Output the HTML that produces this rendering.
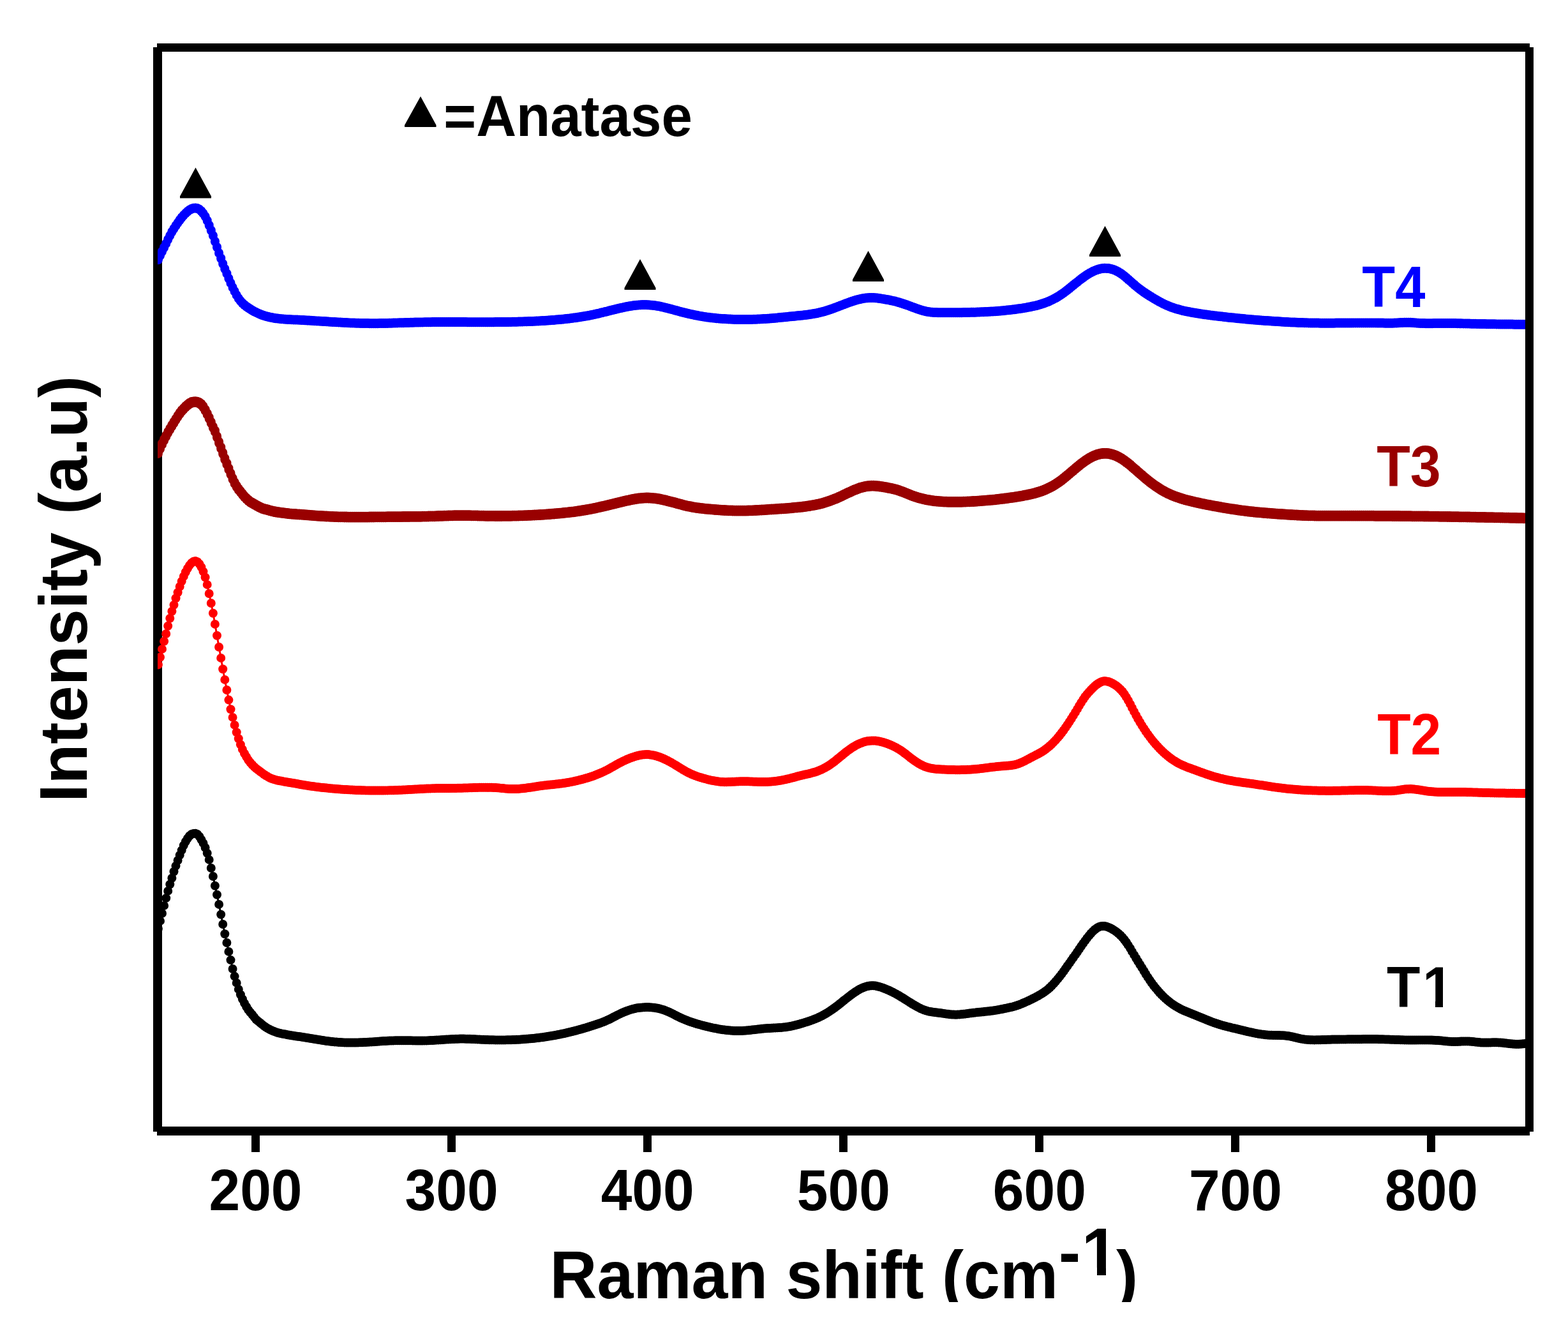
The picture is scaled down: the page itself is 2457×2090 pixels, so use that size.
<!DOCTYPE html>
<html lang="en">
<head>
<meta charset="utf-8">
<title>Raman spectra of T1-T4 (Anatase)</title>
<style>
html,body{margin:0;padding:0;background:#fff;}
body{width:2457px;height:2090px;overflow:hidden;}
svg{display:block;}
text{font-family:"Liberation Sans", "DejaVu Sans", sans-serif;font-weight:bold;fill:#000;}
.ax{fill:#000;shape-rendering:crispEdges;}
.tk{font-size:87.5px;text-anchor:middle;}
.lb{font-size:87.5px;}
.ti{font-size:104.2px;}
.cv{fill:none;stroke-width:3;stroke-linejoin:round;stroke-linecap:round;}
</style>
</head>
<body>
<svg xmlns="http://www.w3.org/2000/svg" width="2457" height="2090" viewBox="0 0 2457 2090">
<defs>
<clipPath id="plot"><rect x="247" y="60" width="2150" height="1720"/></clipPath>
<clipPath id="xt"><rect x="800" y="1900" width="1100" height="140"/></clipPath>
<marker id="mT4" markerUnits="userSpaceOnUse" markerWidth="24" markerHeight="24" refX="12" refY="12" viewBox="0 0 24 24"><rect x="5.0" y="4.5" width="14.0" height="15.0" rx="7.0" ry="7.0" fill="#0000ff"/></marker>
<marker id="mT3" markerUnits="userSpaceOnUse" markerWidth="24" markerHeight="24" refX="12" refY="12" viewBox="0 0 24 24"><rect x="5.0" y="3.6" width="14.0" height="16.8" rx="7.0" ry="7.0" fill="#990000"/></marker>
<marker id="mT2" markerUnits="userSpaceOnUse" markerWidth="24" markerHeight="24" refX="12" refY="12" viewBox="0 0 24 24"><rect x="5.0" y="5.0" width="14.0" height="14.0" rx="7.0" ry="7.0" fill="#ff0000"/></marker>
<marker id="mT1" markerUnits="userSpaceOnUse" markerWidth="24" markerHeight="24" refX="12" refY="12" viewBox="0 0 24 24"><rect x="5.0" y="5.0" width="14.0" height="14.0" rx="7.0" ry="7.0" fill="#000000"/></marker>
</defs>
<rect x="0" y="0" width="2457" height="2090" fill="#fff"/>
<g class="ax">
<rect x="240" y="74" width="14" height="1699"/>
</g>
<g clip-path="url(#plot)">
<polyline class="cv" stroke="#000000" marker-start="url(#mT1)" marker-mid="url(#mT1)" marker-end="url(#mT1)" points="247.9,1455.0 251.0,1442.9 254.0,1431.0 257.1,1418.9 260.2,1407.1 263.2,1395.9 266.3,1385.5 269.4,1375.7 272.5,1365.5 275.5,1356.6 278.6,1348.0 281.7,1339.8 284.7,1332.1 287.8,1324.5 290.9,1318.5 294.0,1313.5 297.0,1309.5 300.1,1307.0 303.2,1305.9 306.2,1305.7 309.3,1307.0 312.4,1310.5 315.4,1315.5 318.5,1321.0 321.6,1328.0 324.7,1336.7 327.7,1346.9 330.8,1360.0 333.9,1373.0 336.9,1387.8 340.0,1401.8 343.1,1416.9 346.2,1432.8 349.2,1448.0 352.3,1463.2 355.4,1477.0 358.4,1490.9 361.5,1504.1 364.6,1518.0 367.6,1529.6 370.7,1539.9 373.8,1549.9 376.9,1558.2 379.9,1565.3 383.0,1571.7 386.1,1577.2 389.1,1582.1 392.2,1586.1 395.3,1589.7 398.4,1593.6 401.4,1597.4 404.5,1599.9 407.6,1602.4 410.6,1604.9 413.7,1607.4 416.8,1609.6 419.9,1611.4 422.9,1613.1 426.0,1614.5 429.1,1615.8 432.1,1616.9 435.2,1618.0 438.3,1618.8 441.3,1619.4 444.4,1620.0 447.5,1620.6 450.6,1621.2 453.6,1621.7 456.7,1622.3 459.8,1622.7 462.8,1623.2 465.9,1623.7 469.0,1624.1 472.1,1624.6 475.1,1625.1 478.2,1625.6 481.3,1626.1 484.3,1626.6 487.4,1627.1 490.5,1627.6 493.5,1628.1 496.6,1628.6 499.7,1629.1 502.8,1629.6 505.8,1630.0 508.9,1630.5 512.0,1630.9 515.0,1631.3 518.1,1631.7 521.2,1632.0 524.3,1632.4 527.3,1632.6 530.4,1632.9 533.5,1633.1 536.5,1633.2 539.6,1633.4 542.7,1633.5 545.7,1633.5 548.8,1633.6 551.9,1633.6 555.0,1633.5 558.0,1633.5 561.1,1633.4 564.2,1633.3 567.2,1633.2 570.3,1633.1 573.4,1632.9 576.5,1632.7 579.5,1632.6 582.6,1632.4 585.7,1632.2 588.7,1632.0 591.8,1631.8 594.9,1631.5 598.0,1631.3 601.0,1631.1 604.1,1631.0 607.2,1630.8 610.2,1630.6 613.3,1630.5 616.4,1630.4 619.4,1630.3 622.5,1630.2 625.6,1630.2 628.7,1630.2 631.7,1630.2 634.8,1630.2 637.9,1630.2 640.9,1630.3 644.0,1630.3 647.1,1630.4 650.2,1630.4 653.2,1630.5 656.3,1630.5 659.4,1630.5 662.4,1630.5 665.5,1630.4 668.6,1630.4 671.6,1630.3 674.7,1630.1 677.8,1630.0 680.9,1629.8 683.9,1629.6 687.0,1629.4 690.1,1629.2 693.1,1629.0 696.2,1628.8 699.3,1628.6 702.4,1628.4 705.4,1628.2 708.5,1628.0 711.6,1627.9 714.6,1627.7 717.7,1627.7 720.8,1627.6 723.9,1627.6 726.9,1627.6 730.0,1627.7 733.1,1627.7 736.1,1627.8 739.2,1628.0 742.3,1628.1 745.3,1628.2 748.4,1628.4 751.5,1628.5 754.6,1628.7 757.6,1628.8 760.7,1629.0 763.8,1629.1 766.8,1629.2 769.9,1629.3 773.0,1629.3 776.1,1629.4 779.1,1629.4 782.2,1629.4 785.3,1629.4 788.3,1629.4 791.4,1629.4 794.5,1629.3 797.5,1629.3 800.6,1629.2 803.7,1629.1 806.8,1629.0 809.8,1628.8 812.9,1628.7 816.0,1628.5 819.0,1628.3 822.1,1628.1 825.2,1627.8 828.3,1627.6 831.3,1627.3 834.4,1627.0 837.5,1626.7 840.5,1626.3 843.6,1626.0 846.7,1625.6 849.8,1625.2 852.8,1624.7 855.9,1624.3 859.0,1623.8 862.0,1623.3 865.1,1622.8 868.2,1622.2 871.2,1621.7 874.3,1621.1 877.4,1620.5 880.5,1619.8 883.5,1619.2 886.6,1618.5 889.7,1617.8 892.7,1617.0 895.8,1616.3 898.9,1615.5 902.0,1614.7 905.0,1613.9 908.1,1613.0 911.2,1612.2 914.2,1611.3 917.3,1610.4 920.4,1609.5 923.4,1608.5 926.5,1607.6 929.6,1606.6 932.7,1605.6 935.7,1604.6 938.8,1603.5 941.9,1602.4 944.9,1601.2 948.0,1600.0 951.1,1598.6 954.2,1597.2 957.2,1595.7 960.3,1594.1 963.4,1592.5 966.4,1590.9 969.5,1589.4 972.6,1587.9 975.6,1586.5 978.7,1585.2 981.8,1584.0 984.9,1582.9 987.9,1581.9 991.0,1581.0 994.1,1580.3 997.1,1579.6 1000.2,1579.1 1003.3,1578.7 1006.4,1578.4 1009.4,1578.2 1012.5,1578.1 1015.6,1578.1 1018.6,1578.2 1021.7,1578.4 1024.8,1578.8 1027.9,1579.2 1030.9,1579.8 1034.0,1580.5 1037.1,1581.4 1040.1,1582.3 1043.2,1583.5 1046.3,1584.7 1049.3,1586.1 1052.4,1587.6 1055.5,1589.1 1058.6,1590.7 1061.6,1592.2 1064.7,1593.7 1067.8,1595.2 1070.8,1596.6 1073.9,1597.8 1077.0,1599.1 1080.1,1600.2 1083.1,1601.3 1086.2,1602.3 1089.3,1603.3 1092.3,1604.2 1095.4,1605.1 1098.5,1605.9 1101.5,1606.7 1104.6,1607.5 1107.7,1608.3 1110.8,1609.0 1113.8,1609.7 1116.9,1610.4 1120.0,1611.0 1123.0,1611.6 1126.1,1612.2 1129.2,1612.7 1132.3,1613.2 1135.3,1613.6 1138.4,1614.0 1141.5,1614.3 1144.5,1614.6 1147.6,1614.8 1150.7,1615.0 1153.8,1615.0 1156.8,1615.1 1159.9,1615.0 1163.0,1614.9 1166.0,1614.8 1169.1,1614.6 1172.2,1614.3 1175.2,1614.0 1178.3,1613.6 1181.4,1613.3 1184.5,1612.9 1187.5,1612.5 1190.6,1612.2 1193.7,1611.8 1196.7,1611.5 1199.8,1611.3 1202.9,1611.0 1206.0,1610.9 1209.0,1610.7 1212.1,1610.6 1215.2,1610.4 1218.2,1610.3 1221.3,1610.1 1224.4,1609.9 1227.4,1609.6 1230.5,1609.2 1233.6,1608.8 1236.7,1608.3 1239.7,1607.7 1242.8,1607.0 1245.9,1606.3 1248.9,1605.5 1252.0,1604.7 1255.1,1603.8 1258.2,1602.9 1261.2,1601.9 1264.3,1601.0 1267.4,1600.0 1270.4,1598.9 1273.5,1597.8 1276.6,1596.6 1279.7,1595.4 1282.7,1594.0 1285.8,1592.5 1288.9,1591.0 1291.9,1589.3 1295.0,1587.5 1298.1,1585.6 1301.1,1583.6 1304.2,1581.5 1307.3,1579.3 1310.4,1577.0 1313.4,1574.7 1316.5,1572.2 1319.6,1569.8 1322.6,1567.3 1325.7,1564.9 1328.8,1562.4 1331.9,1560.1 1334.9,1557.8 1338.0,1555.6 1341.1,1553.5 1344.1,1551.6 1347.2,1549.8 1350.3,1548.3 1353.3,1547.0 1356.4,1545.9 1359.5,1545.0 1362.6,1544.5 1365.6,1544.2 1368.7,1544.3 1371.8,1544.6 1374.8,1545.2 1377.9,1546.0 1381.0,1546.9 1384.1,1548.0 1387.1,1549.2 1390.2,1550.5 1393.3,1551.8 1396.3,1553.3 1399.4,1554.8 1402.5,1556.4 1405.5,1558.1 1408.6,1559.8 1411.7,1561.7 1414.8,1563.5 1417.8,1565.5 1420.9,1567.4 1424.0,1569.4 1427.0,1571.3 1430.1,1573.2 1433.2,1575.0 1436.3,1576.8 1439.3,1578.4 1442.4,1580.0 1445.5,1581.4 1448.5,1582.6 1451.6,1583.6 1454.7,1584.4 1457.8,1585.0 1460.8,1585.5 1463.9,1585.9 1467.0,1586.3 1470.0,1586.7 1473.1,1587.0 1476.2,1587.5 1479.2,1587.9 1482.3,1588.4 1485.4,1588.8 1488.5,1589.2 1491.5,1589.5 1494.6,1589.6 1497.7,1589.7 1500.7,1589.6 1503.8,1589.4 1506.9,1589.1 1510.0,1588.8 1513.0,1588.4 1516.1,1588.0 1519.2,1587.6 1522.2,1587.2 1525.3,1586.8 1528.4,1586.4 1531.4,1586.1 1534.5,1585.8 1537.6,1585.5 1540.7,1585.2 1543.7,1584.8 1546.8,1584.5 1549.9,1584.2 1552.9,1583.8 1556.0,1583.4 1559.1,1582.9 1562.2,1582.4 1565.2,1581.9 1568.3,1581.3 1571.4,1580.7 1574.4,1580.1 1577.5,1579.4 1580.6,1578.8 1583.7,1578.1 1586.7,1577.4 1589.8,1576.6 1592.9,1575.6 1595.9,1574.6 1599.0,1573.4 1602.1,1572.1 1605.1,1570.8 1608.2,1569.4 1611.3,1568.0 1614.4,1566.6 1617.4,1565.1 1620.5,1563.5 1623.6,1561.9 1626.6,1560.2 1629.7,1558.4 1632.8,1556.6 1635.9,1554.6 1638.9,1552.4 1642.0,1550.0 1645.1,1547.3 1648.1,1544.3 1651.2,1541.0 1654.3,1537.5 1657.3,1533.9 1660.4,1530.1 1663.5,1526.1 1666.6,1521.9 1669.6,1517.6 1672.7,1513.2 1675.8,1508.9 1678.8,1504.6 1681.9,1500.2 1685.0,1495.9 1688.1,1491.5 1691.1,1487.0 1694.2,1482.5 1697.3,1478.1 1700.3,1473.9 1703.4,1469.8 1706.5,1465.9 1709.6,1462.3 1712.6,1459.1 1715.7,1456.3 1718.8,1454.0 1721.8,1452.3 1724.9,1451.3 1728.0,1450.9 1731.0,1451.1 1734.1,1451.8 1737.2,1452.9 1740.3,1454.3 1743.3,1456.0 1746.4,1457.9 1749.5,1460.1 1752.5,1462.5 1755.6,1465.3 1758.7,1468.5 1761.8,1472.2 1764.8,1476.3 1767.9,1480.9 1771.0,1485.8 1774.0,1490.9 1777.1,1496.1 1780.2,1501.3 1783.2,1506.3 1786.3,1511.2 1789.4,1516.1 1792.5,1521.2 1795.5,1526.2 1798.6,1531.1 1801.7,1535.7 1804.7,1540.0 1807.8,1544.2 1810.9,1548.1 1814.0,1551.8 1817.0,1555.2 1820.1,1558.5 1823.2,1561.6 1826.2,1564.4 1829.3,1567.1 1832.4,1569.6 1835.4,1571.9 1838.5,1574.1 1841.6,1576.1 1844.7,1577.9 1847.7,1579.6 1850.8,1581.2 1853.9,1582.7 1856.9,1584.0 1860.0,1585.3 1863.1,1586.6 1866.2,1587.8 1869.2,1589.0 1872.3,1590.3 1875.4,1591.5 1878.4,1592.8 1881.5,1594.0 1884.6,1595.3 1887.7,1596.6 1890.7,1597.8 1893.8,1599.0 1896.9,1600.2 1899.9,1601.4 1903.0,1602.5 1906.1,1603.5 1909.1,1604.5 1912.2,1605.5 1915.3,1606.4 1918.4,1607.2 1921.4,1608.1 1924.5,1608.9 1927.6,1609.6 1930.6,1610.4 1933.7,1611.1 1936.8,1611.8 1939.9,1612.6 1942.9,1613.3 1946.0,1614.1 1949.1,1614.8 1952.1,1615.5 1955.2,1616.2 1958.3,1616.9 1961.3,1617.6 1964.4,1618.3 1967.5,1618.9 1970.6,1619.4 1973.6,1620.0 1976.7,1620.4 1979.8,1620.8 1982.8,1621.2 1985.9,1621.5 1989.0,1621.7 1992.1,1621.8 1995.1,1621.9 1998.2,1621.9 2001.3,1622.0 2004.3,1622.1 2007.4,1622.2 2010.5,1622.3 2013.6,1622.6 2016.6,1622.9 2019.7,1623.3 2022.8,1623.9 2025.8,1624.5 2028.9,1625.3 2032.0,1626.0 2035.0,1626.7 2038.1,1627.4 2041.2,1627.9 2044.3,1628.4 2047.3,1628.8 2050.4,1629.0 2053.5,1629.2 2056.5,1629.3 2059.6,1629.4 2062.7,1629.3 2065.8,1629.3 2068.8,1629.2 2071.9,1629.1 2075.0,1629.0 2078.0,1628.9 2081.1,1628.8 2084.2,1628.7 2087.2,1628.6 2090.3,1628.6 2093.4,1628.5 2096.5,1628.5 2099.5,1628.4 2102.6,1628.4 2105.7,1628.4 2108.7,1628.4 2111.8,1628.3 2114.9,1628.3 2118.0,1628.3 2121.0,1628.3 2124.1,1628.3 2127.2,1628.2 2130.2,1628.2 2133.3,1628.2 2136.4,1628.1 2139.5,1628.1 2142.5,1628.1 2145.6,1628.1 2148.7,1628.1 2151.7,1628.1 2154.8,1628.1 2157.9,1628.1 2160.9,1628.2 2164.0,1628.3 2167.1,1628.3 2170.2,1628.4 2173.2,1628.5 2176.3,1628.6 2179.4,1628.7 2182.4,1628.8 2185.5,1628.9 2188.6,1629.0 2191.7,1629.1 2194.7,1629.2 2197.8,1629.3 2200.9,1629.4 2203.9,1629.4 2207.0,1629.5 2210.1,1629.5 2213.1,1629.5 2216.2,1629.5 2219.3,1629.5 2222.4,1629.4 2225.4,1629.4 2228.5,1629.4 2231.6,1629.4 2234.6,1629.4 2237.7,1629.4 2240.8,1629.5 2243.9,1629.6 2246.9,1629.7 2250.0,1629.9 2253.1,1630.1 2256.1,1630.3 2259.2,1630.6 2262.3,1630.9 2265.3,1631.2 2268.4,1631.5 2271.5,1631.7 2274.6,1631.9 2277.6,1632.0 2280.7,1632.0 2283.8,1631.9 2286.8,1631.7 2289.9,1631.6 2293.0,1631.5 2296.1,1631.4 2299.1,1631.4 2302.2,1631.5 2305.3,1631.7 2308.3,1632.0 2311.4,1632.4 2314.5,1632.8 2317.6,1633.1 2320.6,1633.4 2323.7,1633.6 2326.8,1633.6 2329.8,1633.6 2332.9,1633.6 2336.0,1633.4 2339.0,1633.3 2342.1,1633.3 2345.2,1633.3 2348.3,1633.4 2351.3,1633.6 2354.4,1633.8 2357.5,1634.2 2360.5,1634.5 2363.6,1634.9 2366.7,1635.2 2369.8,1635.5 2372.8,1635.7 2375.9,1635.9 2379.0,1635.9 2382.0,1635.7 2385.1,1635.5 2388.2,1635.2 2391.2,1635.0 2394.3,1634.8 2397.4,1634.5"/>
<polyline class="cv" stroke="#ff0000" marker-start="url(#mT2)" marker-mid="url(#mT2)" marker-end="url(#mT2)" points="247.9,1041.4 251.0,1029.7 254.0,1016.9 257.1,1004.7 260.2,993.0 263.2,980.7 266.3,968.8 269.4,957.8 272.5,947.8 275.5,937.3 278.6,928.2 281.7,919.0 284.7,910.8 287.8,903.0 290.9,896.3 294.0,890.5 297.0,885.6 300.1,882.0 303.2,879.8 306.2,878.9 309.3,880.3 312.4,883.5 315.4,888.5 318.5,895.5 321.6,904.5 324.7,915.9 327.7,930.0 330.8,945.0 333.9,960.8 336.9,977.9 340.0,995.8 343.1,1013.7 346.2,1030.9 349.2,1048.2 352.3,1064.9 355.4,1081.0 358.4,1096.6 361.5,1111.2 364.6,1123.9 367.6,1135.9 370.7,1147.3 373.8,1157.2 376.9,1166.5 379.9,1174.0 383.0,1180.5 386.1,1185.8 389.1,1190.8 392.2,1194.7 395.3,1198.2 398.4,1201.4 401.4,1204.1 404.5,1206.4 407.6,1208.7 410.6,1210.9 413.7,1213.2 416.8,1215.2 419.9,1217.1 422.9,1218.8 426.0,1220.1 429.1,1221.1 432.1,1221.9 435.2,1222.7 438.3,1223.3 441.3,1223.8 444.4,1224.4 447.5,1225.0 450.6,1225.5 453.6,1226.0 456.7,1226.5 459.8,1227.0 462.8,1227.6 465.9,1228.1 469.0,1228.7 472.1,1229.3 475.1,1229.8 478.2,1230.3 481.3,1230.8 484.3,1231.3 487.4,1231.7 490.5,1232.1 493.5,1232.6 496.6,1232.9 499.7,1233.3 502.8,1233.7 505.8,1234.0 508.9,1234.3 512.0,1234.6 515.0,1234.9 518.1,1235.2 521.2,1235.5 524.3,1235.8 527.3,1236.0 530.4,1236.3 533.5,1236.5 536.5,1236.7 539.6,1236.9 542.7,1237.1 545.7,1237.3 548.8,1237.4 551.9,1237.6 555.0,1237.7 558.0,1237.9 561.1,1238.0 564.2,1238.1 567.2,1238.2 570.3,1238.3 573.4,1238.4 576.5,1238.4 579.5,1238.5 582.6,1238.5 585.7,1238.5 588.7,1238.5 591.8,1238.5 594.9,1238.5 598.0,1238.5 601.0,1238.5 604.1,1238.4 607.2,1238.4 610.2,1238.3 613.3,1238.3 616.4,1238.2 619.4,1238.1 622.5,1238.0 625.6,1237.8 628.7,1237.7 631.7,1237.6 634.8,1237.4 637.9,1237.3 640.9,1237.1 644.0,1236.9 647.1,1236.8 650.2,1236.6 653.2,1236.4 656.3,1236.2 659.4,1236.1 662.4,1235.9 665.5,1235.8 668.6,1235.6 671.6,1235.5 674.7,1235.4 677.8,1235.3 680.9,1235.2 683.9,1235.1 687.0,1235.1 690.1,1235.0 693.1,1235.0 696.2,1235.0 699.3,1235.0 702.4,1235.0 705.4,1235.0 708.5,1234.9 711.6,1234.9 714.6,1234.9 717.7,1234.8 720.8,1234.8 723.9,1234.7 726.9,1234.6 730.0,1234.5 733.1,1234.4 736.1,1234.3 739.2,1234.2 742.3,1234.1 745.3,1234.0 748.4,1233.9 751.5,1233.8 754.6,1233.7 757.6,1233.7 760.7,1233.7 763.8,1233.7 766.8,1233.8 769.9,1233.8 773.0,1234.0 776.1,1234.1 779.1,1234.3 782.2,1234.6 785.3,1234.9 788.3,1235.1 791.4,1235.4 794.5,1235.7 797.5,1235.9 800.6,1236.0 803.7,1236.1 806.8,1236.1 809.8,1236.1 812.9,1235.9 816.0,1235.6 819.0,1235.3 822.1,1235.0 825.2,1234.6 828.3,1234.1 831.3,1233.7 834.4,1233.2 837.5,1232.7 840.5,1232.2 843.6,1231.8 846.7,1231.3 849.8,1230.9 852.8,1230.5 855.9,1230.2 859.0,1229.8 862.0,1229.5 865.1,1229.2 868.2,1228.9 871.2,1228.5 874.3,1228.2 877.4,1227.8 880.5,1227.4 883.5,1227.0 886.6,1226.5 889.7,1226.0 892.7,1225.4 895.8,1224.9 898.9,1224.2 902.0,1223.6 905.0,1222.9 908.1,1222.1 911.2,1221.3 914.2,1220.5 917.3,1219.6 920.4,1218.7 923.4,1217.7 926.5,1216.7 929.6,1215.7 932.7,1214.5 935.7,1213.3 938.8,1212.1 941.9,1210.8 944.9,1209.4 948.0,1207.9 951.1,1206.4 954.2,1204.7 957.2,1203.0 960.3,1201.3 963.4,1199.6 966.4,1197.8 969.5,1196.1 972.6,1194.5 975.6,1192.9 978.7,1191.5 981.8,1190.1 984.9,1188.8 987.9,1187.6 991.0,1186.5 994.1,1185.4 997.1,1184.5 1000.2,1183.7 1003.3,1183.0 1006.4,1182.5 1009.4,1182.2 1012.5,1182.1 1015.6,1182.1 1018.6,1182.4 1021.7,1182.9 1024.8,1183.5 1027.9,1184.3 1030.9,1185.3 1034.0,1186.3 1037.1,1187.5 1040.1,1188.8 1043.2,1190.3 1046.3,1191.8 1049.3,1193.4 1052.4,1195.1 1055.5,1196.9 1058.6,1198.7 1061.6,1200.6 1064.7,1202.5 1067.8,1204.4 1070.8,1206.3 1073.9,1208.1 1077.0,1209.8 1080.1,1211.3 1083.1,1212.8 1086.2,1214.1 1089.3,1215.3 1092.3,1216.4 1095.4,1217.4 1098.5,1218.3 1101.5,1219.2 1104.6,1220.1 1107.7,1220.9 1110.8,1221.7 1113.8,1222.4 1116.9,1223.1 1120.0,1223.6 1123.0,1224.1 1126.1,1224.5 1129.2,1224.9 1132.3,1225.1 1135.3,1225.2 1138.4,1225.2 1141.5,1225.1 1144.5,1225.0 1147.6,1224.8 1150.7,1224.7 1153.8,1224.5 1156.8,1224.4 1159.9,1224.3 1163.0,1224.2 1166.0,1224.2 1169.1,1224.3 1172.2,1224.3 1175.2,1224.4 1178.3,1224.5 1181.4,1224.7 1184.5,1224.8 1187.5,1224.9 1190.6,1225.0 1193.7,1225.0 1196.7,1225.0 1199.8,1225.0 1202.9,1224.9 1206.0,1224.7 1209.0,1224.5 1212.1,1224.2 1215.2,1223.9 1218.2,1223.5 1221.3,1223.1 1224.4,1222.5 1227.4,1221.9 1230.5,1221.3 1233.6,1220.6 1236.7,1219.9 1239.7,1219.1 1242.8,1218.3 1245.9,1217.5 1248.9,1216.6 1252.0,1215.8 1255.1,1215.1 1258.2,1214.3 1261.2,1213.6 1264.3,1212.9 1267.4,1212.2 1270.4,1211.4 1273.5,1210.6 1276.6,1209.7 1279.7,1208.7 1282.7,1207.6 1285.8,1206.3 1288.9,1204.9 1291.9,1203.3 1295.0,1201.6 1298.1,1199.7 1301.1,1197.7 1304.2,1195.5 1307.3,1193.2 1310.4,1190.8 1313.4,1188.3 1316.5,1185.8 1319.6,1183.2 1322.6,1180.7 1325.7,1178.3 1328.8,1175.9 1331.9,1173.7 1334.9,1171.6 1338.0,1169.7 1341.1,1167.9 1344.1,1166.3 1347.2,1164.9 1350.3,1163.7 1353.3,1162.6 1356.4,1161.8 1359.5,1161.1 1362.6,1160.7 1365.6,1160.5 1368.7,1160.5 1371.8,1160.6 1374.8,1161.0 1377.9,1161.5 1381.0,1162.2 1384.1,1163.1 1387.1,1164.0 1390.2,1165.1 1393.3,1166.2 1396.3,1167.5 1399.4,1168.9 1402.5,1170.4 1405.5,1172.1 1408.6,1173.9 1411.7,1175.8 1414.8,1178.0 1417.8,1180.3 1420.9,1182.6 1424.0,1185.1 1427.0,1187.5 1430.1,1189.8 1433.2,1192.0 1436.3,1194.1 1439.3,1196.0 1442.4,1197.7 1445.5,1199.3 1448.5,1200.7 1451.6,1201.8 1454.7,1202.7 1457.8,1203.5 1460.8,1204.1 1463.9,1204.5 1467.0,1204.9 1470.0,1205.1 1473.1,1205.3 1476.2,1205.5 1479.2,1205.6 1482.3,1205.7 1485.4,1205.9 1488.5,1206.0 1491.5,1206.1 1494.6,1206.1 1497.7,1206.2 1500.7,1206.2 1503.8,1206.2 1506.9,1206.1 1510.0,1206.1 1513.0,1206.0 1516.1,1205.8 1519.2,1205.7 1522.2,1205.5 1525.3,1205.2 1528.4,1205.0 1531.4,1204.7 1534.5,1204.4 1537.6,1204.1 1540.7,1203.7 1543.7,1203.3 1546.8,1202.9 1549.9,1202.5 1552.9,1202.1 1556.0,1201.8 1559.1,1201.4 1562.2,1201.0 1565.2,1200.7 1568.3,1200.5 1571.4,1200.2 1574.4,1200.0 1577.5,1199.8 1580.6,1199.5 1583.7,1199.2 1586.7,1198.8 1589.8,1198.2 1592.9,1197.4 1595.9,1196.5 1599.0,1195.3 1602.1,1193.9 1605.1,1192.5 1608.2,1190.9 1611.3,1189.3 1614.4,1187.6 1617.4,1186.0 1620.5,1184.4 1623.6,1182.8 1626.6,1181.2 1629.7,1179.5 1632.8,1177.7 1635.9,1175.7 1638.9,1173.5 1642.0,1171.1 1645.1,1168.5 1648.1,1165.7 1651.2,1162.6 1654.3,1159.4 1657.3,1155.9 1660.4,1152.2 1663.5,1148.3 1666.6,1144.2 1669.6,1139.9 1672.7,1135.4 1675.8,1130.8 1678.8,1126.0 1681.9,1121.1 1685.0,1116.0 1688.1,1110.9 1691.1,1105.8 1694.2,1100.7 1697.3,1095.9 1700.3,1091.5 1703.4,1087.6 1706.5,1084.1 1709.6,1080.8 1712.6,1077.7 1715.7,1074.8 1718.8,1072.3 1721.8,1070.2 1724.9,1068.6 1728.0,1067.5 1731.0,1067.1 1734.1,1067.4 1737.2,1068.1 1740.3,1069.3 1743.3,1070.8 1746.4,1072.6 1749.5,1074.6 1752.5,1077.1 1755.6,1080.0 1758.7,1083.3 1761.8,1087.4 1764.8,1092.1 1767.9,1097.4 1771.0,1103.1 1774.0,1109.0 1777.1,1114.9 1780.2,1120.7 1783.2,1126.2 1786.3,1131.5 1789.4,1136.6 1792.5,1141.4 1795.5,1146.0 1798.6,1150.4 1801.7,1154.6 1804.7,1158.6 1807.8,1162.4 1810.9,1166.0 1814.0,1169.4 1817.0,1172.7 1820.1,1175.7 1823.2,1178.7 1826.2,1181.4 1829.3,1184.0 1832.4,1186.5 1835.4,1188.7 1838.5,1190.9 1841.6,1192.8 1844.7,1194.7 1847.7,1196.4 1850.8,1197.9 1853.9,1199.3 1856.9,1200.6 1860.0,1201.9 1863.1,1203.0 1866.2,1204.1 1869.2,1205.2 1872.3,1206.3 1875.4,1207.5 1878.4,1208.6 1881.5,1209.7 1884.6,1210.8 1887.7,1211.9 1890.7,1213.0 1893.8,1214.0 1896.9,1215.0 1899.9,1216.0 1903.0,1216.9 1906.1,1217.8 1909.1,1218.6 1912.2,1219.4 1915.3,1220.1 1918.4,1220.9 1921.4,1221.5 1924.5,1222.2 1927.6,1222.8 1930.6,1223.3 1933.7,1223.9 1936.8,1224.4 1939.9,1224.8 1942.9,1225.3 1946.0,1225.7 1949.1,1226.2 1952.1,1226.6 1955.2,1227.0 1958.3,1227.4 1961.3,1227.8 1964.4,1228.3 1967.5,1228.7 1970.6,1229.2 1973.6,1229.7 1976.7,1230.1 1979.8,1230.6 1982.8,1231.1 1985.9,1231.6 1989.0,1232.1 1992.1,1232.5 1995.1,1233.0 1998.2,1233.4 2001.3,1233.8 2004.3,1234.2 2007.4,1234.6 2010.5,1235.0 2013.6,1235.3 2016.6,1235.7 2019.7,1236.0 2022.8,1236.3 2025.8,1236.5 2028.9,1236.8 2032.0,1237.0 2035.0,1237.3 2038.1,1237.5 2041.2,1237.7 2044.3,1237.9 2047.3,1238.0 2050.4,1238.2 2053.5,1238.3 2056.5,1238.4 2059.6,1238.5 2062.7,1238.6 2065.8,1238.7 2068.8,1238.8 2071.9,1238.8 2075.0,1238.8 2078.0,1238.9 2081.1,1238.9 2084.2,1238.9 2087.2,1238.9 2090.3,1238.8 2093.4,1238.8 2096.5,1238.8 2099.5,1238.7 2102.6,1238.6 2105.7,1238.6 2108.7,1238.5 2111.8,1238.4 2114.9,1238.3 2118.0,1238.2 2121.0,1238.2 2124.1,1238.1 2127.2,1238.1 2130.2,1238.0 2133.3,1238.0 2136.4,1238.0 2139.5,1238.0 2142.5,1238.1 2145.6,1238.2 2148.7,1238.3 2151.7,1238.5 2154.8,1238.6 2157.9,1238.8 2160.9,1239.0 2164.0,1239.1 2167.1,1239.2 2170.2,1239.3 2173.2,1239.3 2176.3,1239.3 2179.4,1239.2 2182.4,1239.0 2185.5,1238.7 2188.6,1238.4 2191.7,1237.9 2194.7,1237.5 2197.8,1237.0 2200.9,1236.6 2203.9,1236.3 2207.0,1236.2 2210.1,1236.1 2213.1,1236.3 2216.2,1236.5 2219.3,1236.9 2222.4,1237.3 2225.4,1237.8 2228.5,1238.3 2231.6,1238.8 2234.6,1239.3 2237.7,1239.7 2240.8,1240.0 2243.9,1240.3 2246.9,1240.5 2250.0,1240.7 2253.1,1240.9 2256.1,1241.0 2259.2,1241.0 2262.3,1241.1 2265.3,1241.1 2268.4,1241.1 2271.5,1241.1 2274.6,1241.1 2277.6,1241.0 2280.7,1241.0 2283.8,1241.0 2286.8,1241.0 2289.9,1241.0 2293.0,1241.1 2296.1,1241.1 2299.1,1241.2 2302.2,1241.2 2305.3,1241.3 2308.3,1241.4 2311.4,1241.5 2314.5,1241.6 2317.6,1241.7 2320.6,1241.8 2323.7,1241.9 2326.8,1242.0 2329.8,1242.0 2332.9,1242.1 2336.0,1242.2 2339.0,1242.3 2342.1,1242.4 2345.2,1242.4 2348.3,1242.5 2351.3,1242.5 2354.4,1242.6 2357.5,1242.6 2360.5,1242.7 2363.6,1242.7 2366.7,1242.8 2369.8,1242.8 2372.8,1242.8 2375.9,1242.9 2379.0,1242.9 2382.0,1242.9 2385.1,1243.0 2388.2,1243.0 2391.2,1243.0 2394.3,1243.0 2397.4,1243.1"/>
<polyline class="cv" stroke="#990000" marker-start="url(#mT3)" marker-mid="url(#mT3)" marker-end="url(#mT3)" points="247.9,709.5 251.0,702.3 254.0,695.5 257.1,689.1 260.2,683.1 263.2,677.4 266.3,672.1 269.4,666.9 272.5,661.9 275.5,657.0 278.6,652.2 281.7,647.7 284.7,643.7 287.8,640.3 290.9,637.2 294.0,634.5 297.0,632.2 300.1,630.5 303.2,629.8 306.2,629.6 309.3,630.1 312.4,631.3 315.4,633.6 318.5,637.4 321.6,642.5 324.7,648.5 327.7,654.9 330.8,662.0 333.9,669.3 336.9,675.6 340.0,684.3 343.1,693.2 346.2,701.7 349.2,710.1 352.3,718.8 355.4,726.6 358.4,734.6 361.5,742.4 364.6,750.0 367.6,756.6 370.7,761.9 373.8,766.6 376.9,770.4 379.9,774.1 383.0,778.0 386.1,781.1 389.1,783.9 392.2,786.3 395.3,788.2 398.4,789.9 401.4,791.6 404.5,793.3 407.6,794.9 410.6,796.3 413.7,797.3 416.8,798.1 419.9,798.9 422.9,799.8 426.0,800.7 429.1,801.5 432.1,802.0 435.2,802.5 438.3,802.9 441.3,803.3 444.4,803.7 447.5,804.1 450.6,804.5 453.6,804.8 456.7,805.1 459.8,805.3 462.8,805.5 465.9,805.8 469.0,806.0 472.1,806.2 475.1,806.4 478.2,806.6 481.3,806.9 484.3,807.1 487.4,807.4 490.5,807.6 493.5,807.8 496.6,808.1 499.7,808.3 502.8,808.5 505.8,808.7 508.9,808.8 512.0,809.0 515.0,809.2 518.1,809.3 521.2,809.4 524.3,809.6 527.3,809.7 530.4,809.8 533.5,809.8 536.5,809.9 539.6,810.0 542.7,810.0 545.7,810.1 548.8,810.1 551.9,810.1 555.0,810.1 558.0,810.2 561.1,810.2 564.2,810.1 567.2,810.1 570.3,810.1 573.4,810.1 576.5,810.1 579.5,810.0 582.6,810.0 585.7,810.0 588.7,809.9 591.8,809.9 594.9,809.9 598.0,809.8 601.0,809.8 604.1,809.8 607.2,809.7 610.2,809.7 613.3,809.7 616.4,809.7 619.4,809.6 622.5,809.6 625.6,809.6 628.7,809.6 631.7,809.5 634.8,809.5 637.9,809.5 640.9,809.5 644.0,809.4 647.1,809.4 650.2,809.4 653.2,809.3 656.3,809.3 659.4,809.3 662.4,809.2 665.5,809.2 668.6,809.1 671.6,809.0 674.7,808.9 677.8,808.9 680.9,808.8 683.9,808.7 687.0,808.5 690.1,808.4 693.1,808.3 696.2,808.2 699.3,808.1 702.4,808.0 705.4,807.9 708.5,807.8 711.6,807.7 714.6,807.7 717.7,807.6 720.8,807.6 723.9,807.6 726.9,807.6 730.0,807.6 733.1,807.7 736.1,807.7 739.2,807.8 742.3,807.9 745.3,807.9 748.4,808.0 751.5,808.1 754.6,808.1 757.6,808.2 760.7,808.3 763.8,808.3 766.8,808.4 769.9,808.4 773.0,808.4 776.1,808.5 779.1,808.5 782.2,808.5 785.3,808.5 788.3,808.4 791.4,808.4 794.5,808.4 797.5,808.3 800.6,808.3 803.7,808.2 806.8,808.2 809.8,808.1 812.9,808.0 816.0,807.9 819.0,807.8 822.1,807.7 825.2,807.6 828.3,807.4 831.3,807.3 834.4,807.2 837.5,807.0 840.5,806.9 843.6,806.7 846.7,806.5 849.8,806.3 852.8,806.1 855.9,805.9 859.0,805.7 862.0,805.5 865.1,805.2 868.2,805.0 871.2,804.7 874.3,804.4 877.4,804.2 880.5,803.9 883.5,803.5 886.6,803.2 889.7,802.9 892.7,802.5 895.8,802.2 898.9,801.8 902.0,801.4 905.0,800.9 908.1,800.5 911.2,800.0 914.2,799.5 917.3,799.0 920.4,798.5 923.4,797.9 926.5,797.3 929.6,796.7 932.7,796.1 935.7,795.4 938.8,794.7 941.9,794.0 944.9,793.3 948.0,792.6 951.1,791.8 954.2,791.1 957.2,790.3 960.3,789.6 963.4,788.8 966.4,788.1 969.5,787.3 972.6,786.6 975.6,785.8 978.7,785.1 981.8,784.4 984.9,783.8 987.9,783.1 991.0,782.5 994.1,782.0 997.1,781.5 1000.2,781.0 1003.3,780.7 1006.4,780.4 1009.4,780.2 1012.5,780.0 1015.6,780.0 1018.6,780.2 1021.7,780.4 1024.8,780.7 1027.9,781.0 1030.9,781.5 1034.0,782.0 1037.1,782.6 1040.1,783.3 1043.2,784.0 1046.3,784.8 1049.3,785.6 1052.4,786.4 1055.5,787.2 1058.6,788.0 1061.6,788.9 1064.7,789.7 1067.8,790.5 1070.8,791.3 1073.9,792.1 1077.0,792.8 1080.1,793.4 1083.1,794.0 1086.2,794.6 1089.3,795.1 1092.3,795.6 1095.4,796.0 1098.5,796.4 1101.5,796.7 1104.6,797.1 1107.7,797.4 1110.8,797.7 1113.8,797.9 1116.9,798.2 1120.0,798.5 1123.0,798.7 1126.1,798.9 1129.2,799.1 1132.3,799.3 1135.3,799.5 1138.4,799.7 1141.5,799.8 1144.5,799.9 1147.6,800.0 1150.7,800.1 1153.8,800.2 1156.8,800.2 1159.9,800.2 1163.0,800.2 1166.0,800.1 1169.1,800.1 1172.2,800.0 1175.2,799.9 1178.3,799.8 1181.4,799.6 1184.5,799.5 1187.5,799.3 1190.6,799.2 1193.7,799.0 1196.7,798.8 1199.8,798.6 1202.9,798.4 1206.0,798.2 1209.0,798.0 1212.1,797.9 1215.2,797.7 1218.2,797.4 1221.3,797.2 1224.4,797.0 1227.4,796.8 1230.5,796.6 1233.6,796.3 1236.7,796.1 1239.7,795.8 1242.8,795.5 1245.9,795.2 1248.9,795.0 1252.0,794.6 1255.1,794.3 1258.2,794.0 1261.2,793.6 1264.3,793.2 1267.4,792.7 1270.4,792.2 1273.5,791.7 1276.6,791.1 1279.7,790.5 1282.7,789.8 1285.8,789.1 1288.9,788.3 1291.9,787.4 1295.0,786.4 1298.1,785.4 1301.1,784.4 1304.2,783.2 1307.3,782.0 1310.4,780.8 1313.4,779.5 1316.5,778.1 1319.6,776.7 1322.6,775.2 1325.7,773.7 1328.8,772.2 1331.9,770.8 1334.9,769.4 1338.0,768.0 1341.1,766.8 1344.1,765.6 1347.2,764.5 1350.3,763.6 1353.3,762.8 1356.4,762.2 1359.5,761.7 1362.6,761.4 1365.6,761.2 1368.7,761.2 1371.8,761.4 1374.8,761.6 1377.9,762.0 1381.0,762.4 1384.1,762.9 1387.1,763.4 1390.2,764.0 1393.3,764.6 1396.3,765.2 1399.4,765.9 1402.5,766.7 1405.5,767.5 1408.6,768.5 1411.7,769.6 1414.8,770.7 1417.8,771.9 1420.9,773.2 1424.0,774.4 1427.0,775.7 1430.1,776.8 1433.2,777.9 1436.3,778.9 1439.3,779.9 1442.4,780.7 1445.5,781.5 1448.5,782.2 1451.6,782.8 1454.7,783.4 1457.8,783.9 1460.8,784.4 1463.9,784.8 1467.0,785.1 1470.0,785.4 1473.1,785.7 1476.2,785.9 1479.2,786.1 1482.3,786.2 1485.4,786.3 1488.5,786.4 1491.5,786.4 1494.6,786.4 1497.7,786.4 1500.7,786.4 1503.8,786.3 1506.9,786.3 1510.0,786.2 1513.0,786.1 1516.1,785.9 1519.2,785.8 1522.2,785.6 1525.3,785.5 1528.4,785.3 1531.4,785.1 1534.5,784.9 1537.6,784.7 1540.7,784.4 1543.7,784.2 1546.8,783.9 1549.9,783.6 1552.9,783.4 1556.0,783.1 1559.1,782.8 1562.2,782.4 1565.2,782.1 1568.3,781.7 1571.4,781.4 1574.4,781.0 1577.5,780.6 1580.6,780.2 1583.7,779.7 1586.7,779.3 1589.8,778.8 1592.9,778.3 1595.9,777.8 1599.0,777.3 1602.1,776.8 1605.1,776.2 1608.2,775.6 1611.3,775.0 1614.4,774.3 1617.4,773.6 1620.5,772.8 1623.6,772.0 1626.6,771.1 1629.7,770.1 1632.8,769.1 1635.9,767.9 1638.9,766.6 1642.0,765.2 1645.1,763.7 1648.1,762.1 1651.2,760.4 1654.3,758.5 1657.3,756.5 1660.4,754.4 1663.5,752.1 1666.6,749.7 1669.6,747.2 1672.7,744.7 1675.8,742.0 1678.8,739.4 1681.9,736.8 1685.0,734.2 1688.1,731.6 1691.1,729.1 1694.2,726.7 1697.3,724.4 1700.3,722.2 1703.4,720.1 1706.5,718.2 1709.6,716.5 1712.6,715.0 1715.7,713.6 1718.8,712.5 1721.8,711.6 1724.9,710.9 1728.0,710.5 1731.0,710.3 1734.1,710.4 1737.2,710.7 1740.3,711.3 1743.3,712.1 1746.4,713.1 1749.5,714.4 1752.5,715.9 1755.6,717.6 1758.7,719.5 1761.8,721.6 1764.8,723.8 1767.9,726.2 1771.0,728.7 1774.0,731.3 1777.1,734.0 1780.2,736.7 1783.2,739.4 1786.3,742.0 1789.4,744.7 1792.5,747.3 1795.5,749.9 1798.6,752.4 1801.7,754.9 1804.7,757.2 1807.8,759.5 1810.9,761.6 1814.0,763.7 1817.0,765.7 1820.1,767.6 1823.2,769.3 1826.2,771.0 1829.3,772.6 1832.4,774.0 1835.4,775.4 1838.5,776.7 1841.6,777.8 1844.7,778.9 1847.7,780.0 1850.8,781.0 1853.9,781.9 1856.9,782.8 1860.0,783.6 1863.1,784.4 1866.2,785.1 1869.2,785.9 1872.3,786.6 1875.4,787.3 1878.4,788.0 1881.5,788.7 1884.6,789.3 1887.7,789.9 1890.7,790.6 1893.8,791.2 1896.9,791.7 1899.9,792.3 1903.0,792.9 1906.1,793.4 1909.1,794.0 1912.2,794.5 1915.3,795.1 1918.4,795.6 1921.4,796.1 1924.5,796.6 1927.6,797.1 1930.6,797.6 1933.7,798.0 1936.8,798.5 1939.9,799.0 1942.9,799.4 1946.0,799.8 1949.1,800.2 1952.1,800.6 1955.2,801.0 1958.3,801.4 1961.3,801.7 1964.4,802.0 1967.5,802.3 1970.6,802.6 1973.6,802.9 1976.7,803.2 1979.8,803.5 1982.8,803.7 1985.9,804.0 1989.0,804.2 1992.1,804.4 1995.1,804.7 1998.2,804.9 2001.3,805.1 2004.3,805.3 2007.4,805.5 2010.5,805.7 2013.6,805.9 2016.6,806.1 2019.7,806.3 2022.8,806.5 2025.8,806.7 2028.9,806.9 2032.0,807.0 2035.0,807.2 2038.1,807.3 2041.2,807.5 2044.3,807.6 2047.3,807.7 2050.4,807.8 2053.5,807.9 2056.5,807.9 2059.6,808.0 2062.7,808.1 2065.8,808.1 2068.8,808.1 2071.9,808.1 2075.0,808.1 2078.0,808.1 2081.1,808.1 2084.2,808.1 2087.2,808.1 2090.3,808.1 2093.4,808.1 2096.5,808.1 2099.5,808.1 2102.6,808.1 2105.7,808.1 2108.7,808.1 2111.8,808.1 2114.9,808.1 2118.0,808.1 2121.0,808.1 2124.1,808.1 2127.2,808.1 2130.2,808.1 2133.3,808.1 2136.4,808.2 2139.5,808.2 2142.5,808.2 2145.6,808.2 2148.7,808.2 2151.7,808.2 2154.8,808.3 2157.9,808.3 2160.9,808.3 2164.0,808.3 2167.1,808.3 2170.2,808.4 2173.2,808.4 2176.3,808.4 2179.4,808.4 2182.4,808.5 2185.5,808.5 2188.6,808.5 2191.7,808.5 2194.7,808.6 2197.8,808.6 2200.9,808.6 2203.9,808.7 2207.0,808.7 2210.1,808.7 2213.1,808.8 2216.2,808.8 2219.3,808.8 2222.4,808.9 2225.4,808.9 2228.5,808.9 2231.6,809.0 2234.6,809.0 2237.7,809.0 2240.8,809.1 2243.9,809.1 2246.9,809.2 2250.0,809.2 2253.1,809.2 2256.1,809.3 2259.2,809.3 2262.3,809.4 2265.3,809.4 2268.4,809.5 2271.5,809.5 2274.6,809.6 2277.6,809.6 2280.7,809.7 2283.8,809.7 2286.8,809.8 2289.9,809.8 2293.0,809.9 2296.1,809.9 2299.1,810.0 2302.2,810.0 2305.3,810.1 2308.3,810.1 2311.4,810.2 2314.5,810.3 2317.6,810.3 2320.6,810.4 2323.7,810.4 2326.8,810.5 2329.8,810.6 2332.9,810.6 2336.0,810.7 2339.0,810.7 2342.1,810.8 2345.2,810.9 2348.3,810.9 2351.3,811.0 2354.4,811.0 2357.5,811.1 2360.5,811.2 2363.6,811.2 2366.7,811.3 2369.8,811.4 2372.8,811.4 2375.9,811.5 2379.0,811.6 2382.0,811.6 2385.1,811.7 2388.2,811.8 2391.2,811.8 2394.3,811.9 2397.4,811.9"/>
<polyline class="cv" stroke="#0000ff" marker-start="url(#mT4)" marker-mid="url(#mT4)" marker-end="url(#mT4)" points="247.9,406.8 251.0,400.3 254.0,394.0 257.1,387.7 260.2,381.6 263.2,375.3 266.3,369.1 269.4,363.3 272.5,358.2 275.5,353.5 278.6,349.1 281.7,344.8 284.7,340.8 287.8,337.2 290.9,334.1 294.0,331.2 297.0,328.9 300.1,327.2 303.2,326.2 306.2,325.9 309.3,326.6 312.4,328.1 315.4,330.7 318.5,334.4 321.6,339.1 324.7,345.6 327.7,353.0 330.8,361.0 333.9,369.1 336.9,378.2 340.0,387.3 343.1,396.4 346.2,404.8 349.2,413.3 352.3,421.2 355.4,428.6 358.4,436.3 361.5,443.4 364.6,450.4 367.6,456.4 370.7,462.4 373.8,467.5 376.9,471.6 379.9,475.0 383.0,477.8 386.1,480.2 389.1,482.3 392.2,484.3 395.3,486.2 398.4,488.0 401.4,489.4 404.5,490.9 407.6,492.3 410.6,493.5 413.7,494.6 416.8,495.5 419.9,496.3 422.9,497.0 426.0,497.6 429.1,498.2 432.1,498.7 435.2,499.0 438.3,499.4 441.3,499.7 444.4,499.9 447.5,500.2 450.6,500.4 453.6,500.5 456.7,500.7 459.8,500.9 462.8,501.0 465.9,501.1 469.0,501.3 472.1,501.4 475.1,501.6 478.2,501.8 481.3,501.9 484.3,502.1 487.4,502.3 490.5,502.5 493.5,502.7 496.6,502.9 499.7,503.1 502.8,503.2 505.8,503.4 508.9,503.6 512.0,503.8 515.0,504.0 518.1,504.2 521.2,504.4 524.3,504.6 527.3,504.8 530.4,504.9 533.5,505.1 536.5,505.3 539.6,505.4 542.7,505.6 545.7,505.7 548.8,505.9 551.9,506.0 555.0,506.1 558.0,506.2 561.1,506.3 564.2,506.4 567.2,506.5 570.3,506.5 573.4,506.6 576.5,506.6 579.5,506.7 582.6,506.7 585.7,506.7 588.7,506.7 591.8,506.7 594.9,506.6 598.0,506.6 601.0,506.5 604.1,506.5 607.2,506.4 610.2,506.3 613.3,506.2 616.4,506.1 619.4,506.0 622.5,505.9 625.6,505.8 628.7,505.8 631.7,505.7 634.8,505.6 637.9,505.5 640.9,505.4 644.0,505.3 647.1,505.2 650.2,505.1 653.2,505.1 656.3,505.0 659.4,504.9 662.4,504.9 665.5,504.8 668.6,504.7 671.6,504.7 674.7,504.7 677.8,504.6 680.9,504.6 683.9,504.6 687.0,504.6 690.1,504.5 693.1,504.5 696.2,504.5 699.3,504.5 702.4,504.5 705.4,504.5 708.5,504.6 711.6,504.6 714.6,504.6 717.7,504.6 720.8,504.6 723.9,504.6 726.9,504.6 730.0,504.6 733.1,504.7 736.1,504.7 739.2,504.7 742.3,504.7 745.3,504.7 748.4,504.7 751.5,504.7 754.6,504.7 757.6,504.7 760.7,504.7 763.8,504.7 766.8,504.7 769.9,504.7 773.0,504.7 776.1,504.6 779.1,504.6 782.2,504.6 785.3,504.6 788.3,504.5 791.4,504.5 794.5,504.5 797.5,504.4 800.6,504.4 803.7,504.3 806.8,504.2 809.8,504.2 812.9,504.1 816.0,504.0 819.0,503.9 822.1,503.8 825.2,503.7 828.3,503.6 831.3,503.5 834.4,503.4 837.5,503.3 840.5,503.1 843.6,503.0 846.7,502.8 849.8,502.6 852.8,502.4 855.9,502.2 859.0,502.0 862.0,501.8 865.1,501.6 868.2,501.4 871.2,501.1 874.3,500.8 877.4,500.6 880.5,500.3 883.5,499.9 886.6,499.6 889.7,499.3 892.7,498.9 895.8,498.5 898.9,498.1 902.0,497.7 905.0,497.3 908.1,496.8 911.2,496.3 914.2,495.8 917.3,495.3 920.4,494.8 923.4,494.2 926.5,493.6 929.6,492.9 932.7,492.3 935.7,491.6 938.8,490.9 941.9,490.1 944.9,489.4 948.0,488.6 951.1,487.9 954.2,487.1 957.2,486.3 960.3,485.6 963.4,484.8 966.4,484.1 969.5,483.3 972.6,482.6 975.6,481.9 978.7,481.2 981.8,480.6 984.9,480.0 987.9,479.5 991.0,479.0 994.1,478.6 997.1,478.2 1000.2,477.9 1003.3,477.7 1006.4,477.6 1009.4,477.5 1012.5,477.6 1015.6,477.7 1018.6,477.9 1021.7,478.2 1024.8,478.6 1027.9,479.0 1030.9,479.5 1034.0,480.1 1037.1,480.7 1040.1,481.4 1043.2,482.2 1046.3,482.9 1049.3,483.7 1052.4,484.6 1055.5,485.4 1058.6,486.2 1061.6,487.1 1064.7,487.9 1067.8,488.7 1070.8,489.5 1073.9,490.3 1077.0,491.0 1080.1,491.7 1083.1,492.4 1086.2,493.1 1089.3,493.7 1092.3,494.3 1095.4,494.9 1098.5,495.4 1101.5,495.9 1104.6,496.4 1107.7,496.9 1110.8,497.3 1113.8,497.7 1116.9,498.0 1120.0,498.3 1123.0,498.7 1126.1,498.9 1129.2,499.2 1132.3,499.4 1135.3,499.6 1138.4,499.8 1141.5,500.0 1144.5,500.1 1147.6,500.3 1150.7,500.4 1153.8,500.5 1156.8,500.5 1159.9,500.6 1163.0,500.6 1166.0,500.6 1169.1,500.6 1172.2,500.5 1175.2,500.5 1178.3,500.4 1181.4,500.3 1184.5,500.2 1187.5,500.1 1190.6,499.9 1193.7,499.8 1196.7,499.6 1199.8,499.4 1202.9,499.2 1206.0,499.0 1209.0,498.7 1212.1,498.5 1215.2,498.2 1218.2,497.9 1221.3,497.6 1224.4,497.3 1227.4,497.0 1230.5,496.7 1233.6,496.4 1236.7,496.1 1239.7,495.8 1242.8,495.5 1245.9,495.2 1248.9,494.8 1252.0,494.5 1255.1,494.2 1258.2,493.9 1261.2,493.5 1264.3,493.2 1267.4,492.7 1270.4,492.3 1273.5,491.8 1276.6,491.3 1279.7,490.7 1282.7,490.0 1285.8,489.3 1288.9,488.5 1291.9,487.7 1295.0,486.8 1298.1,485.8 1301.1,484.8 1304.2,483.7 1307.3,482.6 1310.4,481.4 1313.4,480.3 1316.5,479.1 1319.6,477.9 1322.6,476.7 1325.7,475.5 1328.8,474.4 1331.9,473.3 1334.9,472.2 1338.0,471.2 1341.1,470.3 1344.1,469.4 1347.2,468.7 1350.3,468.0 1353.3,467.4 1356.4,467.0 1359.5,466.7 1362.6,466.5 1365.6,466.5 1368.7,466.6 1371.8,466.8 1374.8,467.1 1377.9,467.5 1381.0,467.9 1384.1,468.4 1387.1,469.0 1390.2,469.5 1393.3,470.1 1396.3,470.7 1399.4,471.4 1402.5,472.1 1405.5,472.9 1408.6,473.7 1411.7,474.7 1414.8,475.7 1417.8,476.7 1420.9,477.8 1424.0,478.9 1427.0,480.1 1430.1,481.2 1433.2,482.3 1436.3,483.5 1439.3,484.5 1442.4,485.6 1445.5,486.5 1448.5,487.3 1451.6,488.0 1454.7,488.5 1457.8,488.9 1460.8,489.3 1463.9,489.5 1467.0,489.6 1470.0,489.7 1473.1,489.8 1476.2,489.8 1479.2,489.8 1482.3,489.8 1485.4,489.8 1488.5,489.8 1491.5,489.8 1494.6,489.8 1497.7,489.8 1500.7,489.7 1503.8,489.7 1506.9,489.7 1510.0,489.6 1513.0,489.6 1516.1,489.5 1519.2,489.4 1522.2,489.3 1525.3,489.3 1528.4,489.2 1531.4,489.1 1534.5,489.0 1537.6,488.8 1540.7,488.7 1543.7,488.6 1546.8,488.4 1549.9,488.3 1552.9,488.1 1556.0,487.9 1559.1,487.7 1562.2,487.5 1565.2,487.2 1568.3,487.0 1571.4,486.7 1574.4,486.4 1577.5,486.1 1580.6,485.8 1583.7,485.4 1586.7,485.1 1589.8,484.7 1592.9,484.3 1595.9,483.8 1599.0,483.4 1602.1,482.9 1605.1,482.4 1608.2,481.9 1611.3,481.3 1614.4,480.7 1617.4,480.1 1620.5,479.4 1623.6,478.7 1626.6,477.9 1629.7,477.0 1632.8,476.0 1635.9,475.0 1638.9,473.9 1642.0,472.7 1645.1,471.4 1648.1,469.9 1651.2,468.4 1654.3,466.8 1657.3,465.0 1660.4,463.1 1663.5,461.0 1666.6,458.9 1669.6,456.6 1672.7,454.2 1675.8,451.8 1678.8,449.3 1681.9,446.8 1685.0,444.3 1688.1,441.9 1691.1,439.4 1694.2,437.0 1697.3,434.8 1700.3,432.6 1703.4,430.5 1706.5,428.6 1709.6,426.9 1712.6,425.3 1715.7,423.9 1718.8,422.7 1721.8,421.8 1724.9,421.1 1728.0,420.6 1731.0,420.3 1734.1,420.4 1737.2,420.6 1740.3,421.2 1743.3,422.0 1746.4,423.1 1749.5,424.5 1752.5,426.1 1755.6,428.0 1758.7,430.1 1761.8,432.5 1764.8,435.0 1767.9,437.7 1771.0,440.4 1774.0,443.1 1777.1,445.8 1780.2,448.4 1783.2,450.9 1786.3,453.3 1789.4,455.5 1792.5,457.7 1795.5,459.7 1798.6,461.7 1801.7,463.7 1804.7,465.6 1807.8,467.5 1810.9,469.3 1814.0,471.1 1817.0,472.8 1820.1,474.4 1823.2,476.0 1826.2,477.4 1829.3,478.8 1832.4,480.1 1835.4,481.3 1838.5,482.3 1841.6,483.4 1844.7,484.3 1847.7,485.1 1850.8,485.9 1853.9,486.7 1856.9,487.4 1860.0,488.0 1863.1,488.6 1866.2,489.2 1869.2,489.7 1872.3,490.3 1875.4,490.8 1878.4,491.3 1881.5,491.8 1884.6,492.2 1887.7,492.7 1890.7,493.1 1893.8,493.5 1896.9,493.9 1899.9,494.3 1903.0,494.7 1906.1,495.1 1909.1,495.4 1912.2,495.8 1915.3,496.1 1918.4,496.5 1921.4,496.8 1924.5,497.2 1927.6,497.5 1930.6,497.8 1933.7,498.1 1936.8,498.4 1939.9,498.7 1942.9,499.0 1946.0,499.3 1949.1,499.6 1952.1,499.9 1955.2,500.2 1958.3,500.4 1961.3,500.7 1964.4,501.0 1967.5,501.2 1970.6,501.5 1973.6,501.7 1976.7,501.9 1979.8,502.2 1982.8,502.4 1985.9,502.6 1989.0,502.8 1992.1,503.0 1995.1,503.2 1998.2,503.4 2001.3,503.6 2004.3,503.8 2007.4,504.0 2010.5,504.2 2013.6,504.4 2016.6,504.5 2019.7,504.7 2022.8,504.9 2025.8,505.0 2028.9,505.1 2032.0,505.3 2035.0,505.4 2038.1,505.5 2041.2,505.6 2044.3,505.7 2047.3,505.8 2050.4,505.9 2053.5,506.0 2056.5,506.0 2059.6,506.1 2062.7,506.1 2065.8,506.1 2068.8,506.2 2071.9,506.2 2075.0,506.2 2078.0,506.2 2081.1,506.2 2084.2,506.2 2087.2,506.2 2090.3,506.2 2093.4,506.1 2096.5,506.1 2099.5,506.1 2102.6,506.1 2105.7,506.1 2108.7,506.0 2111.8,506.0 2114.9,506.0 2118.0,506.0 2121.0,505.9 2124.1,505.9 2127.2,505.9 2130.2,505.9 2133.3,505.9 2136.4,505.9 2139.5,505.9 2142.5,505.9 2145.6,505.9 2148.7,505.9 2151.7,505.9 2154.8,505.9 2157.9,506.0 2160.9,506.0 2164.0,506.1 2167.1,506.1 2170.2,506.2 2173.2,506.2 2176.3,506.2 2179.4,506.2 2182.4,506.2 2185.5,506.1 2188.6,506.0 2191.7,505.8 2194.7,505.6 2197.8,505.4 2200.9,505.3 2203.9,505.2 2207.0,505.2 2210.1,505.3 2213.1,505.5 2216.2,505.7 2219.3,506.0 2222.4,506.2 2225.4,506.4 2228.5,506.5 2231.6,506.6 2234.6,506.7 2237.7,506.7 2240.8,506.7 2243.9,506.7 2246.9,506.6 2250.0,506.6 2253.1,506.5 2256.1,506.5 2259.2,506.5 2262.3,506.5 2265.3,506.5 2268.4,506.5 2271.5,506.5 2274.6,506.6 2277.6,506.6 2280.7,506.6 2283.8,506.7 2286.8,506.7 2289.9,506.8 2293.0,506.9 2296.1,506.9 2299.1,507.0 2302.2,507.1 2305.3,507.2 2308.3,507.2 2311.4,507.3 2314.5,507.4 2317.6,507.4 2320.6,507.5 2323.7,507.5 2326.8,507.6 2329.8,507.7 2332.9,507.7 2336.0,507.8 2339.0,507.8 2342.1,507.8 2345.2,507.9 2348.3,507.9 2351.3,508.0 2354.4,508.0 2357.5,508.0 2360.5,508.1 2363.6,508.1 2366.7,508.1 2369.8,508.1 2372.8,508.2 2375.9,508.2 2379.0,508.2 2382.0,508.2 2385.1,508.3 2388.2,508.3 2391.2,508.3 2394.3,508.3 2397.4,508.4"/>
</g>
<g class="ax">
<rect x="246" y="68" width="2151" height="13"/>
<rect x="2390" y="74" width="13" height="1699"/>
<rect x="246" y="1765" width="2151" height="14"/>
<rect x="394" y="1779" width="13" height="26"/>
<rect x="701" y="1779" width="13" height="26"/>
<rect x="1008" y="1779" width="13" height="26"/>
<rect x="1315" y="1779" width="13" height="26"/>
<rect x="1622" y="1779" width="13" height="26"/>
<rect x="1929" y="1779" width="13" height="26"/>
<rect x="2236" y="1779" width="13" height="26"/>
</g>
<text class="tk" transform="translate(400.5,1896) scale(1,1.032)">200</text>
<text class="tk" transform="translate(707.6,1896) scale(1,1.032)">300</text>
<text class="tk" transform="translate(1014.7,1896) scale(1,1.032)">400</text>
<text class="tk" transform="translate(1321.8,1896) scale(1,1.032)">500</text>
<text class="tk" transform="translate(1628.8,1896) scale(1,1.032)">600</text>
<text class="tk" transform="translate(1935.9,1896) scale(1,1.032)">700</text>
<text class="tk" transform="translate(2243.0,1896) scale(1,1.032)">800</text>
<g clip-path="url(#xt)"><text class="ti" transform="translate(861.6,2033.8) scale(0.9826,1.01)">Raman shift (cm<tspan dy="-35.6" dx="1">-</tspan><tspan dx="2">1</tspan><tspan dy="35.6" dx="-3">)</tspan></text>
</g>
<text class="ti" transform="translate(136,1257.0) rotate(-90) scale(0.9868,1.01)">Intensity (a.u)</text>
<polygon points="659,151 683.5,196 683.5,199 634,199 634,196" fill="#000"/>
<text class="lb" transform="translate(695.3,212.8) scale(0.995,1.03)">=Anatase</text>
<polygon points="306.5,262.5 331.0,307.5 331.0,310.5 282.0,310.5 282.0,307.5" fill="#000"/>
<polygon points="1003,406 1027.5,451 1027.5,454 978.5,454 978.5,451" fill="#000"/>
<polygon points="1360.5,393 1385.0,438 1385.0,441 1336.0,441 1336.0,438" fill="#000"/>
<polygon points="1731.5,354 1756.0,399 1756.0,402 1707.0,402 1707.0,399" fill="#000"/>
<text class="lb" transform="translate(2134.3,481) scale(0.97,1.04)" style="fill:#0000ff">T4</text>
<text class="lb" transform="translate(2157.2,762) scale(0.984,1.04)" style="fill:#990000">T3</text>
<text class="lb" transform="translate(2158.2,1182) scale(0.98,1.04)" style="fill:#ff0000">T2</text>
<text class="lb" transform="translate(2173,1578) scale(0.98,1.04)">T<tspan dx="4">1</tspan></text>
<g fill="#fff" shape-rendering="crispEdges">
<rect x="1696" y="1986" width="23" height="13"/><rect x="1733" y="1986" width="19" height="13"/>
<rect x="2231" y="1568" width="18" height="12"/><rect x="2261" y="1568" width="17" height="12"/>
</g>
</svg>
</body>
</html>
